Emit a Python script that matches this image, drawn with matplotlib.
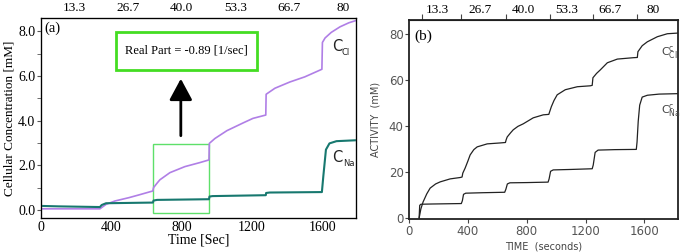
import matplotlib
matplotlib.use('Agg')
import matplotlib.pyplot as plt
from matplotlib.patches import Rectangle
import numpy as np

# panel (a) values: (time [s], concentration [mM])
cl_a = [(0, 0.05), (335, 0.05), (370, 0.25), (420, 0.4), (500, 0.55), (560, 0.68),
        (636, 0.85), (640, 1.0), (660, 1.2), (676, 1.35), (733, 1.67), (818, 1.94),
        (903, 2.12), (955, 2.24), (957, 2.98), (989, 3.2), (1057, 3.55), (1150, 3.9),
        (1205, 4.1), (1278, 4.25), (1280, 5.18), (1330, 5.45), (1415, 5.73),
        (1500, 5.96), (1597, 6.3), (1600, 7.5), (1615, 7.7), (1650, 7.95),
        (1700, 8.2), (1750, 8.38), (1790, 8.48)]
na_a = [(0, 0.18), (100, 0.16), (335, 0.13), (345, 0.22), (370, 0.3), (636, 0.33),
        (640, 0.42), (660, 0.45), (955, 0.48), (958, 0.6), (975, 0.62), (1278, 0.66),
        (1280, 0.76), (1300, 0.78), (1597, 0.8), (1605, 1.5), (1620, 2.7),
        (1640, 2.98), (1680, 3.08), (1790, 3.12)]

# panel (b) values: (time [s], activity [mM])
cl_b = [(68, 0), (80, 4), (95, 7), (120, 10.5), (143, 13), (180, 14.8), (211, 15.7),
        (279, 17), (347, 17.6), (360, 17.8), (365, 19.5), (381, 21.7), (400, 24.8),
        (415, 27.4), (440, 29.7), (463, 30.9), (531, 32.2), (619, 32.6), (655, 32.8),
        (660, 34), (667, 35.2), (690, 37), (708, 38.3), (740, 39.8), (776, 40.9),
        (844, 43.5), (912, 44.8), (950, 45), (955, 46), (967, 48.3), (985, 51),
        (1007, 53.5), (1062, 55.7), (1144, 57), (1232, 57.4), (1245, 57.6),
        (1250, 60.9), (1275, 62.8), (1300, 64.3), (1348, 67.4), (1416, 69),
        (1525, 69.6), (1552, 69.7), (1556, 72.2), (1585, 74.8), (1620, 76.5),
        (1688, 78.7), (1756, 80), (1831, 80.3)]
na_b = [(68, 0), (72, 5.5), (80, 6.0), (150, 6.1), (355, 6.3), (362, 7.5), (370, 10.3),
        (385, 10.8), (500, 11), (650, 11.2), (658, 12.5), (668, 14.8), (685, 15.3),
        (800, 15.4), (945, 15.6), (952, 17), (962, 20.3), (980, 20.9), (1100, 21.1),
        (1245, 21.4), (1252, 23), (1265, 28.5), (1285, 29.5), (1400, 29.7),
        (1545, 29.8), (1550, 33), (1558, 42), (1568, 49), (1585, 52.5), (1620, 53.3),
        (1700, 53.8), (1831, 54)]

top_vals = [13.3, 26.7, 40.0, 53.3, 66.7, 80]
top_labels = ['13.3', '26.7', '40.0', '53.3', '66.7', '80']
step_times_b = [90, 355, 660, 955, 1250, 1552]

purple = '#b07fe6'
teal = '#17786f'
serif = 'Liberation Serif'

fig = plt.figure(figsize=(6.83, 2.52), dpi=100)

# ---------------- panel (a)
ax = fig.add_axes([0.060, 0.135, 0.461, 0.794])
t, v = np.array(cl_a).T
ax.plot(t, v, color=purple, lw=1.2)
t, v = np.array(na_a).T
ax.plot(t, v, color=teal, lw=1.5)
ax.set_xlim(0, 1790)
ax.set_ylim(-0.36, 8.6)
ax.set_xticks([0, 400, 800, 1200, 1600])
ax.set_yticks([0, 2, 4, 6, 8])
ax.set_yticks([1, 3, 5, 7], minor=True)
ax.set_yticklabels(['0.0', '2.0', '4.0', '6.0', '8.0'])
ax.tick_params(axis='x', length=0, pad=2)
ax.tick_params(axis='y', which='both', length=3, color='#555555', pad=1)
for lab in ax.get_xticklabels() + ax.get_yticklabels():
    lab.set_fontfamily(serif)
    lab.set_fontsize(10)
for s in ax.spines.values():
    s.set_color('#666666')
    s.set_linewidth(1.0)
ax.set_xlabel('Time [Sec]', fontfamily=serif, fontsize=10, labelpad=0)
ax.set_ylabel('Cellular Concentration [mM]', fontfamily=serif, fontsize=9.5, labelpad=2)
ax.text(0.012, 0.93, '(a)', transform=ax.transAxes, fontfamily=serif, fontsize=10.5)

ax.add_patch(Rectangle((636, -0.13), 955 - 636, 3.08, fill=False,
                       edgecolor='#5ee06a', lw=1.0))
ax.add_patch(Rectangle((0.238, 0.74), 0.448, 0.19, transform=ax.transAxes,
                       fill=False, edgecolor='#44dd22', lw=2.0))
ax.text(0.462, 0.835, 'Real Part = -0.89 [1/sec]', transform=ax.transAxes,
        ha='center', va='center', fontfamily=serif, fontsize=9)
ax.annotate('', xy=(795, 6.0), xytext=(795, 3.2),
            arrowprops=dict(arrowstyle='-|>,head_length=1.3,head_width=0.7',
                            color='k', lw=2, mutation_scale=10))
ax.text(1655, 7.1, 'C', fontsize=10.5, color='#222222')
ax.text(1710, 6.95, 'Cl', fontsize=6, color='#222222')
ax.text(1655, 2.15, 'C', fontsize=10.5, color='#222222')
ax.text(1720, 1.98, 'Na', fontsize=6, color='#222222')

tx = ax.twiny()
tx.set_xlim(5.1, 83.2)
tx.set_xticks(top_vals)
tx.set_xticklabels(top_labels, fontfamily=serif, fontsize=9.5)
tx.tick_params(axis='x', length=0, pad=3)

# ---------------- panel (b)
bx = fig.add_axes([0.599, 0.131, 0.394, 0.790])
t, v = np.array(cl_b).T
bx.plot(t, v, color='#222222', lw=0.9)
t, v = np.array(na_b).T
bx.plot(t, v, color='#222222', lw=0.9)
bx.set_xlim(0, 1830)
bx.set_ylim(-0.4, 86)
bx.set_xticks([0, 400, 800, 1200, 1600])
bx.set_yticks([0, 20, 40, 60, 80])
bx.tick_params(length=3, width=0.8, color='#444444', labelsize=8.5,
               labelcolor='#555555', pad=1)
for s in bx.spines.values():
    s.set_linewidth(1.3)
    s.set_color('#222222')
bx.set_xlabel('TIME  (seconds)', fontsize=7, color='#444444', labelpad=3)
bx.set_ylabel('ACTIVITY  (mM)', fontsize=7, color='#444444', labelpad=6)
bx.text(0.02, 0.90, '(b)', transform=bx.transAxes, fontfamily=serif, fontsize=11)
bx.text(1715, 70.5, r'C$^{\mathregular{c}}_{\mathregular{Cl}}$', fontsize=8,
        color='#444444')
bx.text(1715, 45.5, r'C$^{\mathregular{c}}_{\mathregular{Na}}$', fontsize=8,
        color='#444444')

sx = bx.secondary_xaxis('top')
sx.set_xticks(step_times_b)
sx.set_xticklabels([])
sx.tick_params(length=4, width=0.8, color='#444444')

tb = bx.twiny()
tb.set_xlim(4.66, 87.7)
tb.set_xticks(top_vals)
tb.set_xticklabels(top_labels, fontfamily=serif, fontsize=9.5)
tb.tick_params(axis='x', length=0, pad=3)
for s in tb.spines.values():
    s.set_visible(False)

fig.savefig('out.png', dpi=100)
